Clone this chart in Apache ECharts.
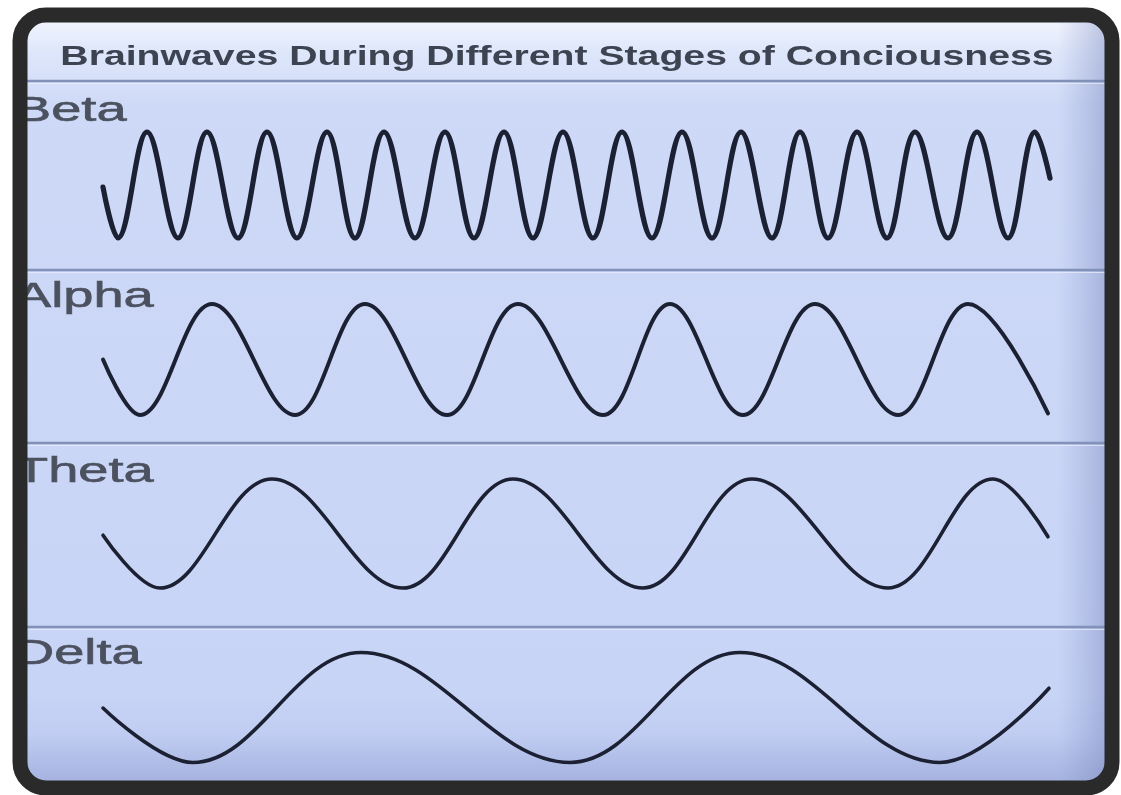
<!DOCTYPE html>
<html><head><meta charset="utf-8">
<script src="https://cdn.jsdelivr.net/npm/echarts@6/dist/echarts.min.js"></script>
<style>html,body{margin:0;padding:0;background:#fff}#c{width:1121px;height:795px}</style>
</head><body><div id="c"></div>
<script>
// ---- data (time units along the trace, amplitude in half-swings) ----
const chartTitle = 'Brainwaves During Different Stages of Conciousness';
const waveNames = ['Beta', 'Alpha', 'Theta', 'Delta'];

const betaTime = [3, 18, 47, 78, 107, 138, 167, 197, 227, 255, 284, 315, 345, 374, 404, 433, 463,
  493, 522, 552, 582, 612, 641, 672, 700, 728, 757, 787, 815, 848, 877, 908, 935, 950];
const betaAmp = [-0.04, -1, 1, -1, 1, -1, 1, -1, 1, -1, 1, -1, 1, -1, 1, -1, 1,
  -1, 1, -1, 1, -1, 1, -1, 1, -1, 1, -1, 1, -1, 1, -1, 1, 0.13];

const alphaTime = [3, 40, 112, 195, 265, 347, 418, 503, 570, 643, 715, 798, 868, 948];
const alphaAmp = [0, -1, 1, -1, 1, -1, 1, -1, 1, -1, 1, -1, 1, -0.97];

const thetaTime = [3, 60, 172, 303, 413, 543, 652, 788, 893, 948];
const thetaAmp = [-0.03, -1, 1, -1, 1, -1, 1, -1, 1, -0.06];

const deltaTime = [3, 93, 261, 470, 640, 840, 949];
const deltaAmp = [-0.01, -1, 1, -1, 1, -1, 0.35];

// ---- layout / style (kept apart from data) ----
const timeSeries = [betaTime, alphaTime, thetaTime, deltaTime];
const ampSeries = [betaAmp, alphaAmp, thetaAmp, deltaAmp];
const gridTops = [132, 304, 479, 652.5];
const gridHeights = [106, 111, 109, 110];
const lineWidths = [5.2, 4, 3.6, 3.6];
const labelYs = [111, 297, 472, 654];
const separatorYs = [81, 270, 443, 627];

const chart = echarts.init(document.getElementById('c'), null, { renderer: 'canvas' });

const grids = [], xAxes = [], yAxes = [], series = [];
waveNames.forEach((name, i) => {
  grids.push({ left: 100, width: 950, top: gridTops[i], height: gridHeights[i], show: false });
  xAxes.push({ type: 'value', gridIndex: i, min: 0, max: 950, show: false });
  yAxes.push({ type: 'value', gridIndex: i, min: -1, max: 1, show: false });
  series.push({
    name: name, type: 'line', xAxisIndex: i, yAxisIndex: i,
    data: timeSeries[i].map((t, k) => [t, ampSeries[i][k]]),
    smooth: 0.38, symbol: 'none', silent: true, clip: false,
    lineStyle: { color: '#1b2132', width: lineWidths[i], cap: 'round', join: 'round' },
    z: 5
  });
});

const graphics = [
  // inner panel background
  { type: 'rect', z: -10, shape: { x: 20, y: 15, width: 1092, height: 773, r: 26 },
    style: { fill: new echarts.graphic.LinearGradient(0, 0, 0, 1, [
      { offset: 0, color: '#f3f6fe' }, { offset: 0.05, color: '#dde6fa' },
      { offset: 0.12, color: '#ced9f7' }, { offset: 0.88, color: '#c8d4f6' },
      { offset: 1, color: '#b5c2eb' }]) } },
  // right edge shading
  { type: 'rect', z: -9, shape: { x: 1058, y: 22, width: 49, height: 762 },
    style: { fill: new echarts.graphic.LinearGradient(0, 0, 1, 0, [
      { offset: 0, color: 'rgba(120,135,190,0)' }, { offset: 1, color: 'rgba(110,122,180,0.4)' }]) } },
  // bottom shading
  { type: 'rect', z: -9, shape: { x: 22, y: 735, width: 1085, height: 48 },
    style: { fill: new echarts.graphic.LinearGradient(0, 0, 0, 1, [
      { offset: 0, color: 'rgba(120,135,190,0)' }, { offset: 1, color: 'rgba(120,135,190,0.28)' }]) } }
];
separatorYs.forEach(y => {
  graphics.push({ type: 'line', z: 1, shape: { x1: 22, y1: y, x2: 1108, y2: y },
    style: { stroke: '#8191b8', lineWidth: 2.5 } });
  graphics.push({ type: 'line', z: 1, shape: { x1: 22, y1: y + 2.5, x2: 1108, y2: y + 2.5 },
    style: { stroke: 'rgba(235,240,252,0.7)', lineWidth: 1 } });
});
graphics.push({ type: 'text', z: 6, x: 557, y: 57, scaleX: 1.40,
  style: { text: chartTitle, font: 'bold 28px "Liberation Sans", Arial, sans-serif',
    fill: '#3d4351', align: 'center', verticalAlign: 'middle' } });
waveNames.forEach((name, i) => {
  graphics.push({ type: 'text', z: 6, x: 15, y: labelYs[i], scaleX: 1.55,
    style: { text: name, font: '35px "Liberation Sans", Arial, sans-serif',
      fill: '#4b515f', align: 'left', verticalAlign: 'middle',
      stroke: '#4b515f', lineWidth: 0.6 } });
});
// dark rounded frame on top
graphics.push({ type: 'rect', z: 100, shape: { x: 20, y: 15, width: 1092, height: 773, r: 26 },
  style: { fill: 'none', stroke: '#2a2a2b', lineWidth: 15 } });

chart.setOption({
  backgroundColor: '#ffffff',
  animation: false,
  grid: grids, xAxis: xAxes, yAxis: yAxes, series: series,
  graphic: { elements: graphics }
});
</script>
</body></html>
